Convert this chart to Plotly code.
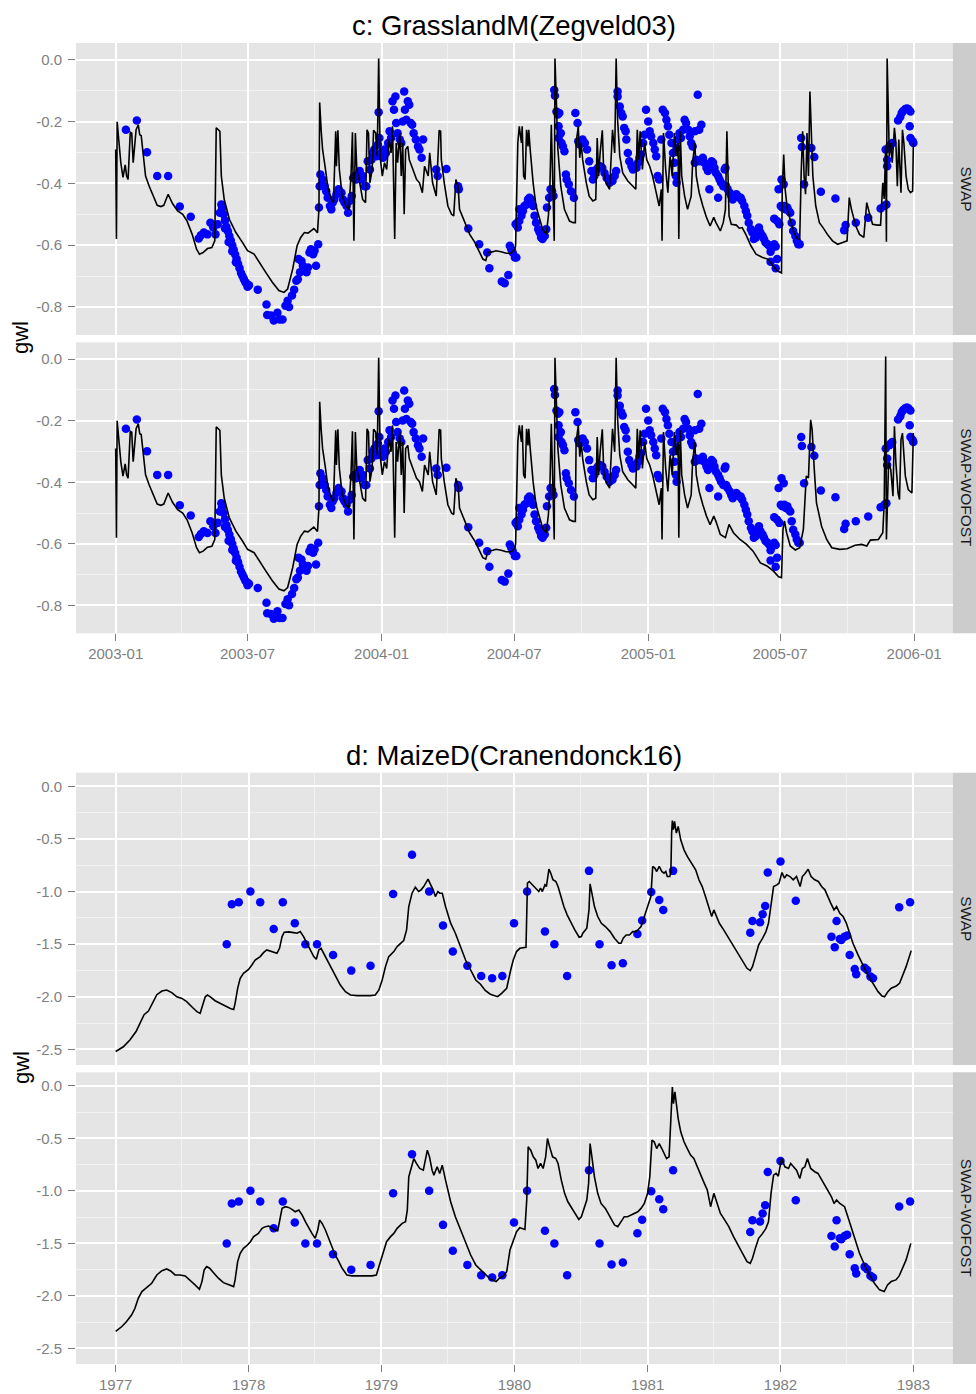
import pandas as pd
import plotly.graph_objects as go

# ---------------- DATA ----------------
TOP_START = "2003-01-01"
BOT_START = "1977-01-01"

# top (c): simulated gwl, SWAP, (day since 2003-01-01, gwl m)
top_swap_line = [
 (0,-0.29),(1,-0.58),(2,-0.20),(7,-0.333),(10,-0.38),(13,-0.34),(15,-0.376),(17,-0.387),(20,-0.234),(22,-0.237),
 (24,-0.333),(26,-0.269),(28,-0.226),(31,-0.21),(33,-0.242),(35,-0.245),(38,-0.312),(41,-0.376),(46,-0.409),(53,-0.446),
 (57,-0.471),(62,-0.475),(66,-0.471),(72,-0.435),(78,-0.465),(85,-0.489),(92,-0.50),(98,-0.522),(105,-0.565),(111,-0.613),
 (115,-0.629),(120,-0.624),(126,-0.611),(132,-0.608),(136,-0.586),(138,-0.22),(141,-0.226),(143,-0.231),(145,-0.376),(149,-0.452),
 (156,-0.516),(165,-0.559),(174,-0.591),(181,-0.618),(190,-0.629),(197,-0.656),(206,-0.688),(215,-0.72),(224,-0.747),(231,-0.753),
 (236,-0.742),(243,-0.677),(249,-0.602),(254,-0.575),(259,-0.559),(264,-0.561),(268,-0.552),(272,-0.546),(275,-0.554),(277,-0.56),
 (279,-0.484),(280,-0.138),(282,-0.226),(284,-0.29),(288,-0.355),(291,-0.409),(296,-0.452),(299,-0.462),(302,-0.231),(303,-0.344),
 (305,-0.228),(307,-0.355),(311,-0.441),(316,-0.473),(320,-0.484),(323,-0.376),(325,-0.234),(327,-0.586),(329,-0.237),(331,-0.355),
 (335,-0.398),(339,-0.452),(343,-0.462),(345,-0.226),(347,-0.237),(349,-0.398),(352,-0.355),(354,-0.228),(357,-0.237),(359,-0.312),
 (361,0.005),(363,-0.312),(366,-0.376),(369,-0.333),(372,-0.355),(375,-0.258),(378,-0.301),(380,-0.215),(383,-0.58),(385,-0.269),
 (387,-0.333),(390,-0.237),(392,-0.376),(394,-0.269),(396,-0.50),(398,-0.29),(401,-0.28),(403,-0.323),(408,-0.355),(413,-0.387),
 (417,-0.398),(421,-0.43),(424,-0.344),(429,-0.376),(431,-0.301),(435,-0.398),(440,-0.441),(444,-0.228),(446,-0.231),(447,-0.323),
 (451,-0.398),(456,-0.473),(461,-0.50),(464,-0.505),(467,-0.387),(470,-0.409),(472,-0.484),(479,-0.527),(486,-0.565),(493,-0.591),
 (499,-0.618),(504,-0.645),(508,-0.65),(511,-0.624),(518,-0.621),(522,-0.618),(529,-0.621),(536,-0.626),(543,-0.626),(548,-0.613),
 (549,-0.60),(550,-0.45),(552,-0.269),(554,-0.215),(557,-0.269),(558,-0.215),(560,-0.376),(562,-0.387),(564,-0.226),(566,-0.28),
 (567,-0.226),(569,-0.29),(573,-0.398),(577,-0.473),(582,-0.516),(586,-0.548),(591,-0.565),(594,-0.505),(596,-0.419),(598,-0.21),
 (600,-0.398),(602,-0.586),(603,0.005),(605,-0.161),(607,-0.29),(611,-0.409),(616,-0.484),(623,-0.522),(628,-0.527),(631,-0.527),
 (632,-0.269),(635,-0.215),(637,-0.317),(639,-0.269),(641,-0.323),(646,-0.398),(650,-0.441),(655,-0.457),(659,-0.452),(661,-0.253),
 (663,-0.376),(665,-0.301),(668,-0.228),(670,-0.366),(673,-0.398),(678,-0.419),(682,-0.226),(685,-0.301),(687,0.005),(689,-0.194),
 (692,-0.312),(696,-0.366),(703,-0.392),(710,-0.409),(714,-0.419),(716,-0.226),(718,-0.323),(720,-0.231),(723,-0.355),(726,-0.269),
 (729,-0.323),(733,-0.344),(737,-0.376),(742,-0.43),(746,-0.473),(749,-0.419),(750,-0.586),(752,-0.237),(755,-0.355),(758,-0.43),
 (761,-0.312),(764,-0.376),(767,-0.237),(770,-0.312),(772,-0.269),(773,-0.58),(775,-0.231),(777,-0.376),(781,-0.441),(785,-0.484),
 (790,-0.441),(792,-0.333),(795,-0.269),(797,-0.376),(801,-0.43),(806,-0.473),(811,-0.51),(816,-0.538),(821,-0.51),(824,-0.527),
 (830,-0.554),(834,-0.527),(837,-0.484),(839,-0.231),(842,-0.505),(845,-0.532),(852,-0.535),(856,-0.545),(860,-0.543),(865,-0.565),
 (872,-0.602),(879,-0.629),(888,-0.64),(895,-0.645),(901,-0.661),(908,-0.683),(914,-0.69),(915,-0.419),(917,-0.306),(919,-0.419),
 (922,-0.484),(927,-0.527),(931,-0.559),(936,-0.58),(939,-0.58),(941,-0.366),(943,-0.231),(945,-0.376),(947,-0.435),(949,-0.237),
 (951,-0.376),(953,-0.102),(955,-0.237),(957,-0.376),(961,-0.473),(966,-0.527),(971,-0.543),(977,-0.565),(984,-0.586),(991,-0.597),
 (998,-0.591),(1004,-0.586),(1007,-0.446),(1010,-0.484),(1016,-0.538),(1021,-0.565),(1027,-0.575),(1031,-0.462),(1034,-0.49),(1039,-0.532),
 (1046,-0.535),(1050,-0.535),(1053,-0.398),(1055,-0.45),(1057,-0.28),(1058,-0.589),(1059,0.005),(1062,-0.312),(1064,-0.269),(1066,-0.333),
 (1069,-0.22),(1071,-0.269),(1073,-0.409),(1075,-0.258),(1078,-0.43),(1080,-0.226),(1082,-0.269),(1085,-0.376),(1088,-0.419),(1091,-0.43),
 (1094,-0.425),(1095,-0.269),
]

# top (c): SWAP-WOFOST differs from SWAP after ~day 825
top_wofost_tail = [
 (830,-0.57),(837,-0.58),(842,-0.537),(848,-0.564),(857,-0.586),(866,-0.602),(875,-0.624),(885,-0.662),(894,-0.672),(903,-0.689),
 (910,-0.707),(914,-0.71),(916,-0.553),(918,-0.526),(921,-0.564),(926,-0.607),(933,-0.62),(939,-0.613),(944,-0.553),(948,-0.38),
 (951,-0.386),(954,-0.197),(956,-0.229),(959,-0.359),(962,-0.467),(969,-0.543),(976,-0.586),(983,-0.613),(994,-0.618),(1004,-0.616),
 (1015,-0.605),(1024,-0.602),(1031,-0.607),(1036,-0.588),(1047,-0.586),(1053,-0.564),(1055,-0.467),(1057,0.009),(1058,-0.586),(1061,-0.337),
 (1064,-0.359),(1067,-0.445),(1069,-0.218),(1071,-0.337),(1074,-0.435),(1076,-0.456),(1078,-0.262),(1080,-0.24),(1084,-0.38),(1088,-0.424),
 (1093,-0.435),(1095,-0.24),
]

# top (c): observed gwl
top_obs = [
 (14,-0.226),(29,-0.196),(43,-0.299),(57,-0.376),(72,-0.376),(88,-0.475),(103,-0.508),(114,-0.578),(117,-0.568),(121,-0.559),
 (126,-0.565),(130,-0.527),(134,-0.543),(137,-0.565),(140,-0.532),(143,-0.495),(145,-0.468),(146,-0.48),(148,-0.50),(150,-0.52),
 (150,-0.545),(152,-0.54),(154,-0.555),(155,-0.59),(156,-0.57),(158,-0.585),(160,-0.60),(160,-0.62),(162,-0.615),(164,-0.63),
 (165,-0.655),(166,-0.645),(168,-0.66),(170,-0.675),(172,-0.69),(174,-0.70),(176,-0.71),(178,-0.72),(180,-0.725),(181,-0.735),
 (183,-0.73),(195,-0.744),(207,-0.792),(208,-0.826),(213,-0.828),(217,-0.844),(222,-0.819),(225,-0.841),(229,-0.841),(233,-0.796),
 (236,-0.78),(238,-0.80),(242,-0.763),(245,-0.744),(248,-0.715),(250,-0.71),(251,-0.645),(253,-0.688),(255,-0.651),(257,-0.667),
 (262,-0.688),(264,-0.672),(266,-0.624),(268,-0.613),(271,-0.629),(273,-0.618),(275,-0.667),(278,-0.597),(279,-0.478),(280,-0.409),
 (281,-0.371),(284,-0.387),(287,-0.409),(289,-0.425),(291,-0.446),(294,-0.473),(296,-0.484),(298,-0.462),(300,-0.452),(303,-0.435),
 (306,-0.419),(310,-0.43),(312,-0.452),(314,-0.462),(317,-0.473),(319,-0.495),(321,-0.457),(324,-0.441),(326,-0.382),(328,-0.376),
 (330,-0.387),(333,-0.371),(335,-0.36),(337,-0.387),(339,-0.376),(342,-0.409),(344,-0.409),(346,-0.328),(349,-0.355),(351,-0.323),
 (353,-0.301),(355,-0.29),(358,-0.312),(360,-0.274),(361,-0.169),(362,-0.253),(365,-0.301),(367,-0.317),(369,-0.29),(371,-0.301),
 (374,-0.269),(376,-0.231),(378,-0.253),(380,-0.134),(382,-0.161),(384,-0.118),(385,-0.204),(387,-0.237),(390,-0.258),(392,-0.269),
 (394,-0.199),(396,-0.102),(397,-0.161),(399,-0.194),(401,-0.134),(403,-0.145),(405,-0.204),(407,-0.21),(409,-0.237),(412,-0.258),
 (415,-0.28),(417,-0.29),(420,-0.317),(422,-0.258),(440,-0.355),(442,-0.376),(454,-0.353),(470,-0.409),(471,-0.419),(484,-0.546),
 (499,-0.597),(510,-0.624),(513,-0.675),(530,-0.718),(534,-0.723),(539,-0.697),(541,-0.602),(543,-0.613),(545,-0.624),(548,-0.64),
 (549,-0.532),(550,-0.64),(551,-0.527),(552,-0.543),(554,-0.484),(554,-0.522),(557,-0.505),(559,-0.489),(561,-0.473),(564,-0.468),
 (566,-0.452),(568,-0.446),(570,-0.452),(573,-0.473),(575,-0.505),(577,-0.527),(580,-0.548),(582,-0.559),(584,-0.575),(586,-0.58),
 (589,-0.57),(591,-0.548),(592,-0.478),(595,-0.446),(597,-0.419),(599,-0.425),(601,-0.441),(602,-0.097),(603,-0.116),(605,-0.167),
 (607,-0.177),(609,-0.172),(608,-0.215),(611,-0.237),(608,-0.253),(612,-0.269),(614,-0.28),(616,-0.296),(618,-0.371),(619,-0.387),
 (622,-0.403),(625,-0.425),(629,-0.446),(631,-0.172),(634,-0.204),(635,-0.263),(637,-0.274),(641,-0.258),(644,-0.269),(647,-0.29),
 (650,-0.328),(653,-0.36),(655,-0.387),(657,-0.376),(660,-0.355),(662,-0.349),(665,-0.344),(668,-0.349),(671,-0.366),(674,-0.382),
 (678,-0.398),(682,-0.392),(685,-0.376),(687,-0.36),(689,-0.118),(689,-0.102),(692,-0.151),(694,-0.172),(696,-0.183),(698,-0.22),
 (700,-0.231),(701,-0.258),(703,-0.301),(705,-0.328),(708,-0.344),(710,-0.355),(712,-0.344),(715,-0.349),(717,-0.333),(719,-0.317),
 (721,-0.306),(724,-0.269),(726,-0.242),(728,-0.161),(731,-0.199),(733,-0.231),(735,-0.247),(738,-0.269),(740,-0.29),(742,-0.312),
 (744,-0.376),(746,-0.387),(749,-0.258),(751,-0.161),(754,-0.172),(756,-0.194),(758,-0.215),(760,-0.242),(763,-0.269),(765,-0.301),
 (767,-0.333),(769,-0.376),(770,-0.398),(770,-0.285),(772,-0.258),(774,-0.237),(776,-0.253),(779,-0.226),(781,-0.194),(783,-0.204),
 (786,-0.226),(788,-0.247),(790,-0.269),(792,-0.28),(795,-0.231),(799,-0.113),(801,-0.226),(804,-0.21),(795,-0.333),(797,-0.323),
 (802,-0.328),(806,-0.317),(808,-0.333),(811,-0.349),(813,-0.36),(815,-0.349),(818,-0.328),(820,-0.333),(822,-0.349),(824,-0.366),
 (827,-0.376),(815,-0.419),(827,-0.446),(829,-0.387),(831,-0.398),(834,-0.409),(836,-0.355),(837,-0.349),(838,-0.409),(840,-0.419),
 (843,-0.43),(845,-0.441),(847,-0.452),(850,-0.441),(852,-0.435),(854,-0.441),(856,-0.446),(858,-0.446),(860,-0.457),(863,-0.473),
 (865,-0.489),(867,-0.505),(869,-0.527),(872,-0.548),(874,-0.559),(876,-0.58),(879,-0.575),(881,-0.554),(883,-0.543),(885,-0.559),
 (888,-0.57),(890,-0.58),(892,-0.591),(895,-0.597),(897,-0.602),(899,-0.621),(901,-0.608),(904,-0.597),(906,-0.604),(899,-0.654),
 (906,-0.675),(908,-0.645),(904,-0.514),(908,-0.522),(911,-0.532),(910,-0.419),(914,-0.387),(917,-0.403),(913,-0.473),(915,-0.478),
 (918,-0.473),(920,-0.484),(922,-0.478),(924,-0.489),(926,-0.495),(928,-0.527),(930,-0.554),(933,-0.57),(935,-0.586),(937,-0.597),
 (939,-0.597),(941,-0.253),(942,-0.282),(945,-0.403),(955,-0.285),(959,-0.314),(968,-0.427),(988,-0.449),(1000,-0.552),(1002,-0.535),
 (1016,-0.527),(1033,-0.511),(1050,-0.481),(1055,-0.473),(1058,-0.468),(1057,-0.29),(1059,-0.323),(1059,-0.344),(1062,-0.28),(1064,-0.274),
 (1066,-0.269),(1074,-0.196),(1077,-0.185),(1079,-0.172),(1081,-0.165),(1084,-0.159),(1086,-0.157),(1088,-0.159),(1091,-0.167),(1090,-0.215),
 (1091,-0.253),(1094,-0.263),(1095,-0.269),
]

# bottom (d): simulated gwl, SWAP (day since 1977-01-01, gwl m)
bot_swap_line = [
 (0,-2.52),(21,-2.475),(39,-2.41),(56,-2.33),(67,-2.25),(78,-2.17),(90,-2.135),(102,-2.06),(113,-1.98),(127,-1.945),
 (140,-1.935),(154,-1.96),(168,-2.0),(182,-2.015),(195,-2.046),(209,-2.094),(223,-2.141),(232,-2.157),(239,-2.078),(246,-2.0),
 (252,-1.983),(260,-2.0),(273,-2.037),(287,-2.062),(301,-2.088),(315,-2.11),(324,-2.12),(328,-2.062),(335,-1.92),(342,-1.824),
 (351,-1.777),(365,-1.739),(374,-1.697),(383,-1.65),(397,-1.618),(406,-1.58),(415,-1.555),(429,-1.57),(443,-1.586),(450,-1.539),
 (457,-1.428),(463,-1.386),(475,-1.383),(489,-1.39),(498,-1.396),(507,-1.38),(516,-1.428),(530,-1.523),(544,-1.618),(551,-1.643),
 (558,-1.555),(564,-1.539),(576,-1.618),(590,-1.713),(603,-1.808),(617,-1.888),(631,-1.951),(645,-1.983),(663,-1.989),(681,-1.992),
 (700,-1.989),(713,-1.983),(723,-1.935),(732,-1.84),(741,-1.713),(750,-1.618),(764,-1.57),(773,-1.523),(782,-1.491),(791,-1.466),
 (799,-1.364),(805,-1.142),(814,-1.015),(823,-0.958),(832,-0.999),(839,-0.983),(846,-0.952),(853,-0.904),(858,-0.882),(864,-0.926),
 (872,-0.983),(878,-1.047),(885,-0.999),(890,-1.015),(897,-1.015),(906,-1.142),(920,-1.30),(933,-1.396),(947,-1.523),(961,-1.65),
 (975,-1.745),(989,-1.84),(1002,-1.88),(1015,-1.94),(1029,-1.975),(1049,-1.999),(1060,-1.967),(1074,-1.919),(1085,-1.745),(1092,-1.65),
 (1101,-1.57),(1110,-1.539),(1127,-1.529),(1131,-0.92),(1136,-0.904),(1142,-0.926),(1149,-0.952),(1156,-0.968),(1162,-0.999),(1167,-0.968),
 (1172,-0.999),(1179,-0.936),(1183,-0.952),(1190,-0.787),(1195,-0.825),(1201,-0.888),(1209,-0.904),(1215,-0.952),(1222,-1.047),(1231,-1.142),
 (1240,-1.221),(1249,-1.285),(1261,-1.364),(1273,-1.434),(1279,-1.428),(1283,-1.396),(1294,-1.348),(1300,-1.174),(1303,-0.926),(1308,-1.015),
 (1315,-1.142),(1324,-1.237),(1334,-1.301),(1345,-1.332),(1358,-1.38),(1370,-1.443),(1382,-1.491),(1388,-1.491),(1394,-1.443),(1402,-1.412),
 (1411,-1.412),(1420,-1.38),(1429,-1.38),(1436,-1.358),(1443,-1.332),(1449,-1.269),(1456,-1.19),(1464,-1.11),(1470,-1.047),(1475,-0.761),
 (1481,-0.777),(1486,-0.809),(1493,-0.761),(1500,-0.809),(1506,-0.825),(1511,-0.809),(1515,-0.857),(1522,-0.857),(1525,-0.809),(1527,-0.444),
 (1529,-0.324),(1532,-0.412),(1535,-0.333),(1540,-0.444),(1545,-0.381),(1552,-0.508),(1561,-0.603),(1570,-0.666),(1579,-0.714),(1586,-0.746),
 (1593,-0.793),(1602,-0.888),(1611,-0.952),(1620,-1.047),(1629,-1.142),(1637,-1.237),(1643,-1.174),(1649,-1.221),(1658,-1.301),(1670,-1.364),
 (1684,-1.443),(1698,-1.523),(1711,-1.602),(1725,-1.682),(1734,-1.729),(1743,-1.751),(1749,-1.713),(1757,-1.618),(1766,-1.507),(1777,-1.443),
 (1786,-1.38),(1793,-1.301),(1802,-1.063),(1807,-0.952),(1816,-0.936),(1822,-0.92),(1830,-0.819),(1837,-0.872),(1843,-0.841),(1852,-0.857),
 (1861,-0.888),(1870,-0.857),(1880,-0.952),(1886,-0.857),(1893,-0.831),(1902,-0.787),(1910,-0.857),(1920,-0.888),(1930,-0.904),(1939,-0.952),
 (1948,-0.983),(1955,-1.047),(1964,-1.11),(1973,-1.174),(1980,-1.142),(1989,-1.206),(1998,-1.237),(2007,-1.301),(2016,-1.396),(2025,-1.491),
 (2039,-1.602),(2053,-1.697),(2066,-1.793),(2080,-1.872),(2094,-1.951),(2105,-1.992),(2112,-1.999),(2121,-1.951),(2130,-1.919),(2144,-1.897),
 (2153,-1.872),(2162,-1.793),(2171,-1.713),(2185,-1.561),
]

# bottom (d): simulated gwl, SWAP-WOFOST
bot_wofost_line = [
 (0,-2.338),(17,-2.291),(30,-2.243),(44,-2.18),(53,-2.117),(62,-2.022),(72,-1.958),(85,-1.92),(99,-1.879),(113,-1.8),
 (127,-1.759),(140,-1.743),(151,-1.762),(163,-1.8),(177,-1.8),(191,-1.809),(204,-1.847),(218,-1.895),(230,-1.936),(237,-1.863),
 (243,-1.752),(250,-1.72),(258,-1.736),(269,-1.784),(282,-1.831),(296,-1.873),(310,-1.895),(324,-1.911),(328,-1.847),(335,-1.673),
 (342,-1.594),(351,-1.546),(362,-1.515),(370,-1.483),(379,-1.435),(386,-1.42),(392,-1.404),(402,-1.356),(411,-1.34),(420,-1.334),
 (429,-1.356),(438,-1.372),(445,-1.378),(452,-1.271),(457,-1.166),(466,-1.15),(475,-1.157),(484,-1.176),(493,-1.198),(503,-1.182),
 (512,-1.229),(521,-1.293),(530,-1.356),(539,-1.404),(548,-1.451),(555,-1.372),(560,-1.277),(567,-1.309),(576,-1.372),(585,-1.451),
 (594,-1.53),(603,-1.61),(613,-1.673),(622,-1.736),(635,-1.8),(649,-1.809),(668,-1.809),(686,-1.809),(704,-1.809),(716,-1.8),
 (725,-1.705),(735,-1.578),(744,-1.483),(755,-1.435),(764,-1.404),(773,-1.356),(787,-1.309),(796,-1.293),(801,-1.182),(805,-0.865),
 (812,-0.77),(819,-0.691),(826,-0.738),(835,-0.786),(845,-0.802),(851,-0.707),(856,-0.612),(862,-0.675),(869,-0.802),(874,-0.849),
 (883,-0.77),(890,-0.833),(897,-0.754),(906,-0.897),(920,-1.103),(933,-1.245),(947,-1.372),(961,-1.499),(975,-1.61),(989,-1.705),
 (1002,-1.75),(1015,-1.79),(1029,-1.84),(1045,-1.863),(1054,-1.831),(1065,-1.809),(1074,-1.768),(1083,-1.562),(1092,-1.467),(1101,-1.388),
 (1110,-1.35),(1124,-1.366),(1129,-1.087),(1133,-0.58),(1140,-0.612),(1147,-0.675),(1154,-0.707),(1160,-0.786),(1167,-0.738),(1174,-0.786),
 (1181,-0.675),(1186,-0.501),(1192,-0.58),(1200,-0.675),(1209,-0.691),(1215,-0.738),(1224,-0.897),(1233,-1.023),(1242,-1.103),(1251,-1.15),
 (1263,-1.214),(1272,-1.271),(1279,-1.246),(1288,-1.15),(1294,-1.087),(1299,-0.928),(1303,-0.548),(1308,-0.675),(1315,-0.865),(1324,-1.023),
 (1333,-1.119),(1345,-1.166),(1358,-1.245),(1370,-1.324),(1379,-1.34),(1388,-1.293),(1397,-1.245),(1406,-1.245),(1415,-1.229),(1424,-1.214),
 (1434,-1.198),(1443,-1.166),(1452,-1.119),(1461,-1.023),(1467,-0.865),(1473,-0.516),(1479,-0.532),(1486,-0.596),(1493,-0.548),(1500,-0.596),
 (1506,-0.643),(1513,-0.691),(1520,-0.675),(1525,-0.326),(1529,-0.01),(1532,-0.168),(1536,-0.057),(1540,-0.168),(1545,-0.311),(1552,-0.437),
 (1561,-0.532),(1570,-0.596),(1579,-0.659),(1588,-0.691),(1597,-0.77),(1606,-0.849),(1615,-0.913),(1625,-0.992),(1634,-1.15),(1643,-1.023),
 (1652,-1.119),(1661,-1.214),(1670,-1.261),(1684,-1.34),(1697,-1.435),(1711,-1.53),(1725,-1.625),(1734,-1.673),(1743,-1.689),(1749,-1.641),
 (1757,-1.546),(1766,-1.451),(1777,-1.404),(1786,-1.356),(1793,-1.293),(1800,-1.023),(1807,-0.849),(1814,-0.833),(1820,-0.859),(1829,-0.691),
 (1838,-0.77),(1848,-0.786),(1854,-0.738),(1861,-0.77),(1870,-0.802),(1879,-0.881),(1886,-0.786),(1893,-0.77),(1900,-0.691),(1909,-0.786),
 (1920,-0.817),(1929,-0.833),(1939,-0.897),(1948,-0.944),(1957,-1.008),(1966,-1.055),(1973,-1.119),(1980,-1.087),(1989,-1.119),(2002,-1.15),
 (2011,-1.245),(2020,-1.34),(2030,-1.467),(2043,-1.594),(2057,-1.705),(2070,-1.8),(2084,-1.879),(2098,-1.942),(2111,-1.958),(2120,-1.895),
 (2130,-1.863),(2143,-1.847),(2152,-1.809),(2162,-1.736),(2171,-1.657),(2184,-1.499),
]

# bottom (d): observed gwl
bot_obs = [
 (305,-1.501),(319,-1.12),(338,-1.101),(370,-0.999),(397,-1.101),(434,-1.355),(459,-1.101),(492,-1.301),(521,-1.501),(553,-1.501),
 (597,-1.602),(647,-1.751),(700,-1.704),(762,-1.022),(814,-0.65),(861,-0.999),(899,-1.323),(926,-1.570),(966,-1.704),(1004,-1.802),
 (1034,-1.824),(1062,-1.802),(1094,-1.301),(1130,-0.999),(1179,-1.38),(1205,-1.501),(1240,-1.802),(1300,-0.803),(1329,-1.501),(1362,-1.701),
 (1393,-1.681),(1433,-1.402),(1446,-1.275),(1471,-1.003),(1493,-1.079),(1504,-1.174),(1531,-0.803),(1743,-1.39),(1749,-1.279),(1770,-1.291),
 (1777,-1.215),(1784,-1.136),(1791,-0.819),(1826,-0.714),(1868,-1.088),(1966,-1.428),(1975,-1.529),(1980,-1.279),(1989,-1.45),(1993,-1.459),
 (2002,-1.428),(2009,-1.418),(2016,-1.602),(2030,-1.735),(2034,-1.786),(2057,-1.723),(2064,-1.745),(2073,-1.808),(2080,-1.824),(2152,-1.148),
 (2182,-1.101),
]

facet_labels = ["SWAP", "SWAP-WOFOST"]
titles = ["c: GrasslandM(Zegveld03)", "d: MaizeD(Cranendonck16)"]

top_x_ticks = ["2003-01-01", "2003-07-01", "2004-01-01", "2004-07-01", "2005-01-01", "2005-07-01", "2006-01-01"]
top_x_text = ["2003-01", "2003-07", "2004-01", "2004-07", "2005-01", "2005-07", "2006-01"]
top_x_minor = ["2003-04-01", "2003-10-01", "2004-04-01", "2004-10-01", "2005-04-01", "2005-10-01"]
top_y_ticks = [0.0, -0.2, -0.4, -0.6, -0.8]
top_y_text = ["0.0", "-0.2", "-0.4", "-0.6", "-0.8"]
top_y_minor = [-0.1, -0.3, -0.5, -0.7]

bot_x_ticks = ["1977-01-01", "1978-01-01", "1979-01-01", "1980-01-01", "1981-01-01", "1982-01-01", "1983-01-01"]
bot_x_text = ["1977", "1978", "1979", "1980", "1981", "1982", "1983"]
bot_x_minor = ["1977-07-01", "1978-07-01", "1979-07-01", "1980-07-01", "1981-07-01", "1982-07-01"]
bot_y_ticks = [0.0, -0.5, -1.0, -1.5, -2.0, -2.5]
bot_y_text = ["0.0", "-0.5", "-1.0", "-1.5", "-2.0", "-2.5"]
bot_y_minor = [-0.25, -0.75, -1.25, -1.75, -2.25]

# ---------------- BUILD ----------------
def series(start, pairs):
    d = [p[0] for p in pairs]
    v = [p[1] for p in pairs]
    return pd.Timestamp(start) + pd.to_timedelta(d, unit="D"), v

top_wofost_line = [p for p in top_swap_line if p[0] <= 824] + top_wofost_tail

W, H = 976, 1394
XL, XR = 76, 952.7
panels_px = [(43, 335), (342.3, 633.3), (772.7, 1065), (1072.3, 1364)]

def ydom(t, b):
    return [1 - b / H, 1 - t / H]

fig = go.Figure()
panel_data = [
    (TOP_START, top_obs, top_swap_line),
    (TOP_START, top_obs, top_wofost_line),
    (BOT_START, bot_obs, bot_swap_line),
    (BOT_START, bot_obs, bot_wofost_line),
]
for i, (start, obs, line) in enumerate(panel_data):
    ax = "" if i == 0 else str(i + 1)
    ox, oy = series(start, obs)
    lx, ly = series(start, line)
    fig.add_trace(go.Scatter(x=ox, y=oy, mode="markers", xaxis="x" + ax, yaxis="y" + ax,
                             marker=dict(color="#0000FF", size=8.5, line=dict(width=0)), showlegend=False))
    fig.add_trace(go.Scatter(x=lx, y=ly, mode="lines", xaxis="x" + ax, yaxis="y" + ax,
                             line=dict(color="black", width=1.6), showlegend=False))

GRID = "#FFFFFF"
MINOR = "#F2F2F2"
TICKC = "#7F7F7F"
tickfont = dict(size=15, color=TICKC, family="Liberation Sans, Arial, sans-serif")

top_range_x = [pd.Timestamp("2002-11-07 12:00"), pd.Timestamp("2006-02-23")]
bot_range_x = [pd.Timestamp("1976-09-14"), pd.Timestamp("1983-04-19")]

layout = dict(
    width=W, height=H, margin=dict(l=0, r=0, t=0, b=0),
    plot_bgcolor="#E5E5E5", paper_bgcolor="white", showlegend=False,
    font=dict(family="Liberation Sans, Arial, sans-serif"),
)
for i in range(4):
    ax = "" if i == 0 else str(i + 1)
    top = i < 2
    show = i in (1, 3)
    t, b = panels_px[i]
    xt = top_x_ticks if top else bot_x_ticks
    xtt = top_x_text if top else bot_x_text
    xm = top_x_minor if top else bot_x_minor
    layout["xaxis" + ax] = dict(
        domain=[XL / W, XR / W], anchor="y" + ax, type="date",
        range=top_range_x if top else bot_range_x,
        tickmode="array", tickvals=xt, ticktext=xtt,
        showticklabels=show, ticks="outside" if show else "", ticklen=7, tickwidth=1.1, tickcolor=TICKC,
        tickfont=tickfont, showgrid=True, gridcolor=GRID, gridwidth=1.8, zeroline=False, showline=False,
        minor=dict(tickmode="array", tickvals=xm, showgrid=True, gridcolor=MINOR, gridwidth=0.9, ticks=""),
    )
    layout["yaxis" + ax] = dict(
        domain=ydom(t, b), anchor="x" + ax,
        range=[-0.891, 0.055] if top else [-2.648, 0.13],
        tickmode="array", tickvals=top_y_ticks if top else bot_y_ticks,
        ticktext=top_y_text if top else bot_y_text,
        ticks="outside", ticklen=7, tickwidth=1.1, tickcolor=TICKC, tickfont=tickfont,
        ticklabelstandoff=3,
        showgrid=True, gridcolor=GRID, gridwidth=1.8, zeroline=False, showline=False,
        minor=dict(tickmode="array", tickvals=top_y_minor if top else bot_y_minor,
                   showgrid=True, gridcolor=MINOR, gridwidth=0.9, ticks=""),
    )

shapes = []
annotations = []
for i in range(4):
    t, b = panels_px[i]
    shapes.append(dict(type="rect", xref="paper", yref="paper", x0=XR / W, x1=1.0,
                       y0=1 - b / H, y1=1 - t / H, fillcolor="#CCCCCC", line=dict(width=0), layer="below"))
    annotations.append(dict(text=facet_labels[i % 2], xref="paper", yref="paper",
                            x=966.5 / W, y=1 - (t + b) / 2 / H, xanchor="center", yanchor="middle",
                            textangle=90, showarrow=False, font=dict(size=15.5, color="#1A1A1A")))
annotations.append(dict(text=titles[0], xref="paper", yref="paper", x=(XL + XR) / 2 / W, y=1 - 25.5 / H,
                        xanchor="center", yanchor="middle", showarrow=False, font=dict(size=27.5, color="black")))
annotations.append(dict(text=titles[1], xref="paper", yref="paper", x=(XL + XR) / 2 / W, y=1 - 755 / H,
                        xanchor="center", yanchor="middle", showarrow=False, font=dict(size=27.5, color="black")))
annotations.append(dict(text="gwl", xref="paper", yref="paper", x=21 / W, y=1 - 338 / H,
                        xanchor="center", yanchor="middle", textangle=-90, showarrow=False,
                        font=dict(size=22, color="black")))
annotations.append(dict(text="gwl", xref="paper", yref="paper", x=21 / W, y=1 - 1068 / H,
                        xanchor="center", yanchor="middle", textangle=-90, showarrow=False,
                        font=dict(size=22, color="black")))
layout["shapes"] = shapes
layout["annotations"] = annotations
fig.update_layout(**layout)
fig.write_html("out.html", config={"displayModeBar": False},
               post_script="document.body.style.margin='0px'; document.body.style.overflow='hidden';")
